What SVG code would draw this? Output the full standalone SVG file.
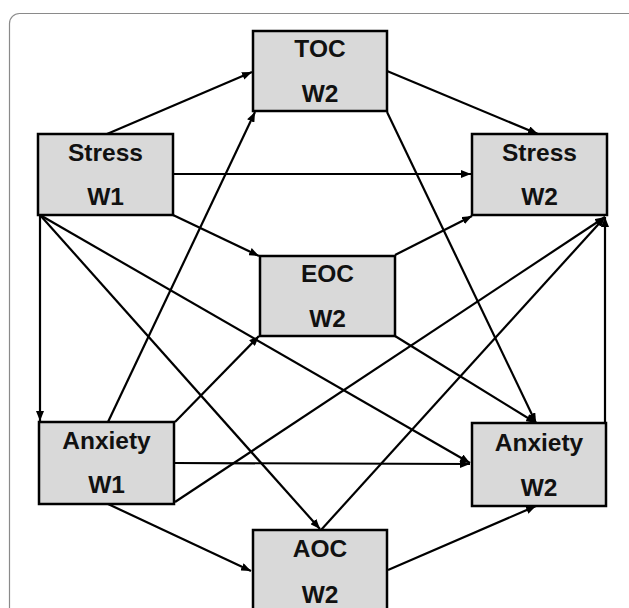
<svg xmlns="http://www.w3.org/2000/svg" width="629" height="608" viewBox="0 0 629 608">
<style>
.box{fill:#d9d9d9;stroke:#000;stroke-width:2.5}
.lbl{font-family:"Liberation Sans",Arial,sans-serif;font-weight:bold;font-size:24.5px;fill:#111;text-anchor:middle}
.c line{stroke:#000;stroke-width:2.2;marker-end:url(#ah)}
</style>
<defs>
<marker id="ah" markerUnits="userSpaceOnUse" markerWidth="10" markerHeight="8" refX="10" refY="4" orient="auto">
<path d="M0,0 L10,4 L0,8 z" fill="#000"/>
</marker>
</defs>
<rect width="629" height="608" fill="#fff"/>
<rect x="9.5" y="13.5" width="640" height="620" rx="10" fill="none" stroke="#8a8a8a" stroke-width="1.2"/>
<g class="c" id="connectors">
<line x1="107" y1="134" x2="252" y2="72"/>
<line x1="387" y1="71" x2="538" y2="134"/>
<line x1="173" y1="174" x2="471" y2="174"/>
<line x1="173" y1="215" x2="259" y2="256"/>
<line x1="395" y1="255" x2="472" y2="216"/>
<line x1="108" y1="422" x2="255" y2="112"/>
<line x1="387" y1="112" x2="536" y2="423"/>
<line x1="40" y1="215" x2="40" y2="421"/>
<line x1="40" y1="215" x2="320" y2="529"/>
<line x1="40" y1="215" x2="470" y2="463"/>
<line x1="175" y1="422" x2="259" y2="336"/>
<line x1="174" y1="463" x2="470" y2="464"/>
<line x1="175" y1="502" x2="605" y2="217"/>
<line x1="321" y1="530" x2="605" y2="217"/>
<line x1="605" y1="423" x2="605" y2="217"/>
<line x1="108" y1="504" x2="251" y2="571"/>
<line x1="388" y1="570" x2="536" y2="506"/>
<line x1="395" y1="336" x2="536" y2="423"/>
</g>
<g id="toc"><rect class="box" x="253" y="31" width="134" height="80"/><text class="lbl" x="320" y="57">TOC</text><text class="lbl" x="320" y="102">W2</text></g>
<g id="stress-w1"><rect class="box" x="38" y="134" width="135" height="81"/><text class="lbl" x="105.5" y="161">Stress</text><text class="lbl" x="105.5" y="205">W1</text></g>
<g id="stress-w2"><rect class="box" x="472" y="134" width="135" height="81"/><text class="lbl" x="539.5" y="161">Stress</text><text class="lbl" x="539.5" y="205">W2</text></g>
<g id="eoc"><rect class="box" x="260" y="256" width="135" height="80"/><text class="lbl" x="327.5" y="282">EOC</text><text class="lbl" x="327.5" y="327">W2</text></g>
<g id="anxiety-w1"><rect class="box" x="39" y="422" width="135" height="82"/><text class="lbl" x="106.5" y="449">Anxiety</text><text class="lbl" x="106.5" y="493">W1</text></g>
<g id="anxiety-w2"><rect class="box" x="472" y="423" width="134" height="83"/><text class="lbl" x="539" y="451">Anxiety</text><text class="lbl" x="539" y="496">W2</text></g>
<g id="aoc"><rect class="box" x="253" y="530" width="134" height="95"/><text class="lbl" x="320" y="557">AOC</text><text class="lbl" x="320" y="603">W2</text></g>
</svg>
